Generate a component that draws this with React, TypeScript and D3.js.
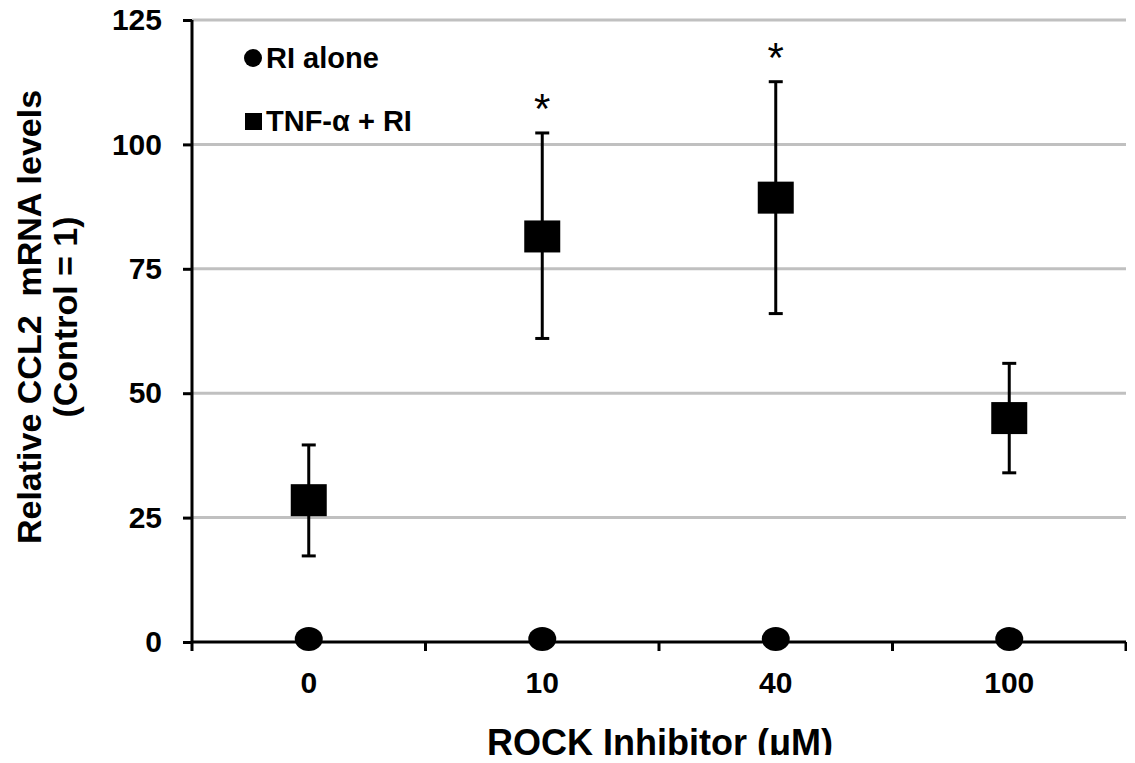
import React, { useRef, useEffect } from "react";
import * as d3 from "d3";

const doses = ["0", "10", "40", "100"];
const riAlone = [1, 1, 1, 1];
const tnfMean = [28.5, 81.5, 89.3, 45];
const tnfLow = [17.3, 61, 66, 34];
const tnfHigh = [39.6, 102.3, 112.6, 56];
const starred = [false, true, true, false];
const yTicks = [0, 25, 50, 75, 100, 125];

const FONT = "'Liberation Sans', Arial, sans-serif";

const Chart = () => {
  const ref = useRef<SVGSVGElement>(null);

  useEffect(() => {
    const svg = d3.select(ref.current);
    svg.selectAll("*").remove();

    const left = 192, right = 1126, top = 20, bottom = 642;

    const x = d3.scaleBand().domain(doses).range([left, right]).padding(0);
    const y = d3.scaleLinear().domain([0, 125]).range([bottom, top]);
    const cx = (d: string) => (x(d) as number) + x.bandwidth() / 2;

    // gridlines
    svg
      .append("g")
      .selectAll("line")
      .data(yTicks.filter((t) => t > 0))
      .enter()
      .append("line")
      .attr("x1", left)
      .attr("x2", right)
      .attr("y1", (d) => y(d))
      .attr("y2", (d) => y(d))
      .attr("stroke", "#c0c0c0")
      .attr("stroke-width", 3);

    // y axis
    const yAxis = svg
      .append("g")
      .attr("transform", `translate(${left},0)`)
      .call(d3.axisLeft(y).tickValues(yTicks).tickSize(9).tickPadding(21));
    yAxis.select(".domain").attr("stroke", "#000").attr("stroke-width", 3).attr("d", `M0,${bottom}V${top}`);
    yAxis.selectAll(".tick line").attr("stroke", "#000").attr("stroke-width", 3);
    yAxis
      .selectAll(".tick text")
      .attr("font-family", FONT)
      .attr("font-weight", "bold")
      .attr("font-size", 30)
      .attr("fill", "#000");

    // x axis: ticks at category boundaries
    const xg = svg.append("g");
    xg.append("line")
      .attr("x1", left)
      .attr("x2", right)
      .attr("y1", bottom)
      .attr("y2", bottom)
      .attr("stroke", "#000")
      .attr("stroke-width", 3);
    const bounds = doses.map((d) => x(d) as number).concat([right]);
    xg.selectAll(".xt")
      .data(bounds)
      .enter()
      .append("line")
      .attr("x1", (d) => d)
      .attr("x2", (d) => d)
      .attr("y1", bottom)
      .attr("y2", bottom + 9)
      .attr("stroke", "#000")
      .attr("stroke-width", 3);
    xg.selectAll(".xl")
      .data(doses)
      .enter()
      .append("text")
      .attr("x", (d) => cx(d))
      .attr("y", bottom + 51)
      .attr("text-anchor", "middle")
      .attr("font-family", FONT)
      .attr("font-weight", "bold")
      .attr("font-size", 30)
      .text((d) => d);

    // axis titles
    svg
      .append("text")
      .attr("x", 660)
      .attr("y", 755)
      .attr("text-anchor", "middle")
      .attr("font-family", FONT)
      .attr("font-weight", "bold")
      .attr("font-size", 36)
      .text("ROCK Inhibitor (μM)");

    const yt = svg
      .append("text")
      .attr("transform", "translate(0,317) rotate(-90)")
      .attr("text-anchor", "middle")
      .attr("font-family", FONT)
      .attr("font-weight", "bold")
      .attr("font-size", 34);
    yt.append("tspan").attr("x", 0).attr("y", 41).attr("xml:space", "preserve").text("Relative CCL2  mRNA levels");
    yt.append("tspan").attr("x", 0).attr("y", 77).text("(Control = 1)");

    // error bars
    const eb = svg.append("g").attr("stroke", "#000").attr("stroke-width", 3);
    doses.forEach((d, i) => {
      const c = cx(d);
      eb.append("line").attr("x1", c).attr("x2", c).attr("y1", y(tnfLow[i])).attr("y2", y(tnfHigh[i]));
      [tnfLow[i], tnfHigh[i]].forEach((v) => {
        eb.append("line").attr("x1", c - 7).attr("x2", c + 7).attr("y1", y(v)).attr("y2", y(v));
      });
    });

    // squares
    svg
      .append("g")
      .selectAll("rect")
      .data(tnfMean)
      .enter()
      .append("rect")
      .attr("x", (_, i) => cx(doses[i]) - 18)
      .attr("y", (d) => y(d) - 16)
      .attr("width", 36)
      .attr("height", 32)
      .attr("fill", "#000");

    // circles
    svg
      .append("g")
      .selectAll("ellipse")
      .data(riAlone)
      .enter()
      .append("ellipse")
      .attr("cx", (_, i) => cx(doses[i]))
      .attr("cy", (d) => y(d) + 2)
      .attr("rx", 14)
      .attr("ry", 12)
      .attr("fill", "#000");

    // significance stars
    svg
      .append("g")
      .selectAll("text")
      .data(doses.filter((_, i) => starred[i]))
      .enter()
      .append("text")
      .attr("x", (d) => cx(d))
      .attr("y", (d) => y(tnfHigh[doses.indexOf(d)]) - 10)
      .attr("text-anchor", "middle")
      .attr("font-family", FONT)
      .attr("font-size", 42)
      .text("*");

    // legend
    const lg = svg.append("g").attr("font-family", FONT).attr("font-weight", "bold").attr("font-size", 29);
    lg.append("circle").attr("cx", 253).attr("cy", 58).attr("r", 9).attr("fill", "#000");
    lg.append("text").attr("x", 266).attr("y", 68).text("RI alone");
    lg.append("rect").attr("x", 245).attr("y", 113).attr("width", 17).attr("height", 17).attr("fill", "#000");
    lg.append("text").attr("x", 266).attr("y", 131).text("TNF-α + RI");
  }, []);

  return <svg ref={ref} width={1135} height={763} style={{ display: "block" }} />;
};

export default function App() {
  return (
    <div style={{ margin: -8 }}>
      <Chart />
    </div>
  );
}
